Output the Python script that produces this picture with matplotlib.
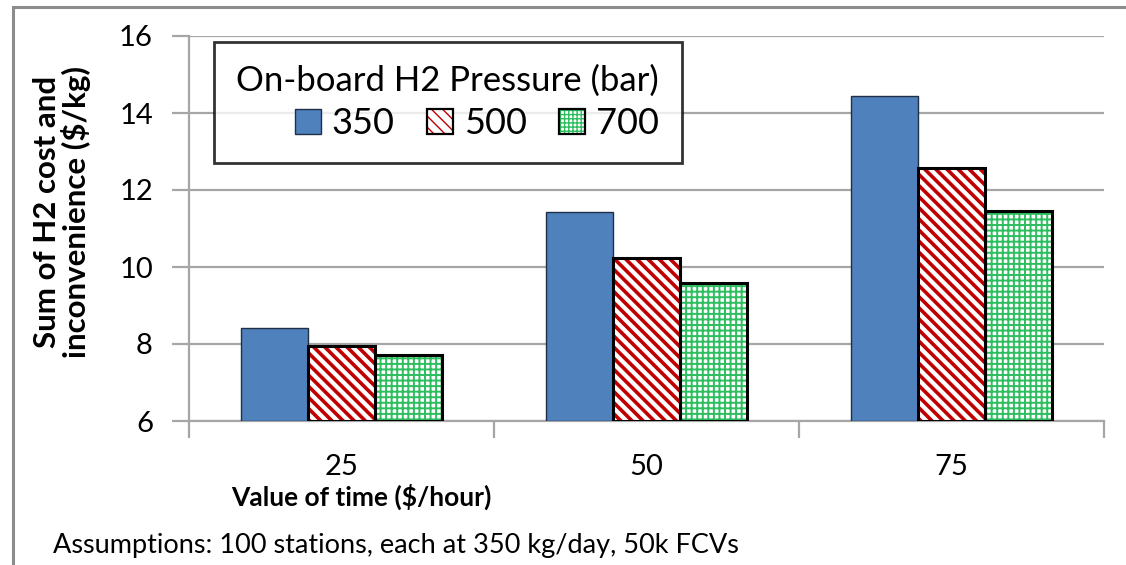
import matplotlib
matplotlib.use("Agg")
import matplotlib.pyplot as plt
from matplotlib.patches import Patch, Rectangle
from matplotlib.legend_handler import HandlerTuple

categories = ["25", "50", "75"]
series_names = ["350", "500", "700"]
v350 = [8.42, 11.43, 14.44]
v500 = [7.95, 10.24, 12.57]
v700 = [7.71, 9.58, 11.45]

BLUE = "#4F81BD"
RED = "#C00000"
GREEN = "#2EBD5F"
GRID = "#A6A6A6"

plt.rcParams['font.family'] = ['Lato', 'DejaVu Sans']

fig = plt.figure(figsize=(11.26, 5.65), dpi=100)
W, H = 1126, 565
ax = fig.add_axes([189 / W, 1 - 421 / H, (1104 - 189) / W, (421 - 36) / H])

# outer frame
fig.patches.append(Rectangle((13 / W, -0.1), 1.2, (1 - 7 / H) + 0.1, transform=fig.transFigure,
                             fill=False, edgecolor="#8C8C8C", linewidth=2.2, zorder=0))

x = list(range(len(categories)))
bw = 0.22
x350 = [i - bw for i in x]
x500 = list(x)
x700 = [i + bw for i in x]
base = 6

b1 = ax.bar(x350, [v - base for v in v350], bw, bottom=base, color=BLUE,
            edgecolor="#1F2F45", linewidth=1.0, zorder=3)

with plt.rc_context({'hatch.linewidth': 2.6}):
    h2 = ax.bar(x500, [v - base for v in v500], bw, bottom=base, color="white",
                edgecolor=RED, hatch="\\\\\\", linewidth=0, zorder=3)
e2 = ax.bar(x500, [v - base for v in v500], bw, bottom=base, fill=False,
            edgecolor="black", linewidth=2.2, zorder=4)
with plt.rc_context({'hatch.linewidth': 1.4}):
    h3 = ax.bar(x700, [v - base for v in v700], bw, bottom=base, color="white",
                edgecolor=GREEN, hatch="+++", linewidth=0, zorder=3)
e3 = ax.bar(x700, [v - base for v in v700], bw, bottom=base, fill=False,
            edgecolor="black", linewidth=2.2, zorder=4)

ax.set_xlim(-0.5, 2.5)
ax.set_ylim(6, 16)
ax.set_yticks([6, 8, 10, 12, 14, 16])
ax.set_xticks(x)
ax.set_xticklabels(categories)
ax.set_xticks([-0.5, 0.5, 1.5, 2.5], minor=True)
ax.tick_params(axis='x', which='major', length=0, labelsize=21, pad=24)
ax.tick_params(axis='x', which='minor', length=12, width=1.6, color=GRID, direction='out')
ax.tick_params(axis='y', length=12, width=1.6, color=GRID, labelsize=21, pad=14)
ax.yaxis.grid(True, color=GRID, linewidth=1.6, zorder=0)
ax.set_axisbelow(True)
for s in ['top', 'right']:
    ax.spines[s].set_visible(False)
for s in ['left', 'bottom']:
    ax.spines[s].set_color(GRID)
    ax.spines[s].set_linewidth(1.6)

fig.text(62 / W, 1 - 212 / H, "Sum of H2 cost and\ninconvenience ($/kg)",
         rotation=90, ha='center', va='center', fontsize=22.5, fontweight='bold',
         linespacing=1.03)
fig.text(361 / W, 1 - 497 / H, "Value of time ($/hour)", ha='center', va='center',
         fontsize=19, fontweight='bold')
fig.text(53 / W, 1 - 545 / H, "Assumptions: 100 stations, each at 350 kg/day, 50k FCVs",
         ha='left', va='center', fontsize=19.5)

hp1 = Patch(facecolor=BLUE, edgecolor="#1F2F45", linewidth=1.0)
with plt.rc_context({'hatch.linewidth': 2.2}):
    hp2 = Patch(facecolor="white", edgecolor=RED, hatch="\\\\\\", linewidth=0)
with plt.rc_context({'hatch.linewidth': 1.0}):
    hp3 = Patch(facecolor="white", edgecolor=GREEN, hatch="++++", linewidth=0)
ep = Patch(fill=False, edgecolor="black", linewidth=1.6)

leg = fig.legend([hp1, (hp2, ep), (hp3, ep)], series_names,
                 handler_map={tuple: HandlerTuple(ndivide=1)},
                 title="On-board H2 Pressure (bar)", title_fontsize=25,
                 fontsize=26, ncol=3, loc='upper left', alignment='right',
                 bbox_to_anchor=(214 / W, 1 - 42 / H), borderaxespad=0,
                 frameon=True, fancybox=False, edgecolor='black',
                 handlelength=0.72, handleheight=0.7, handletextpad=0.3,
                 columnspacing=0.9, borderpad=0.62, labelspacing=0.3)
leg.get_frame().set_linewidth(2.0)

fig.savefig("out.png", dpi=100)
